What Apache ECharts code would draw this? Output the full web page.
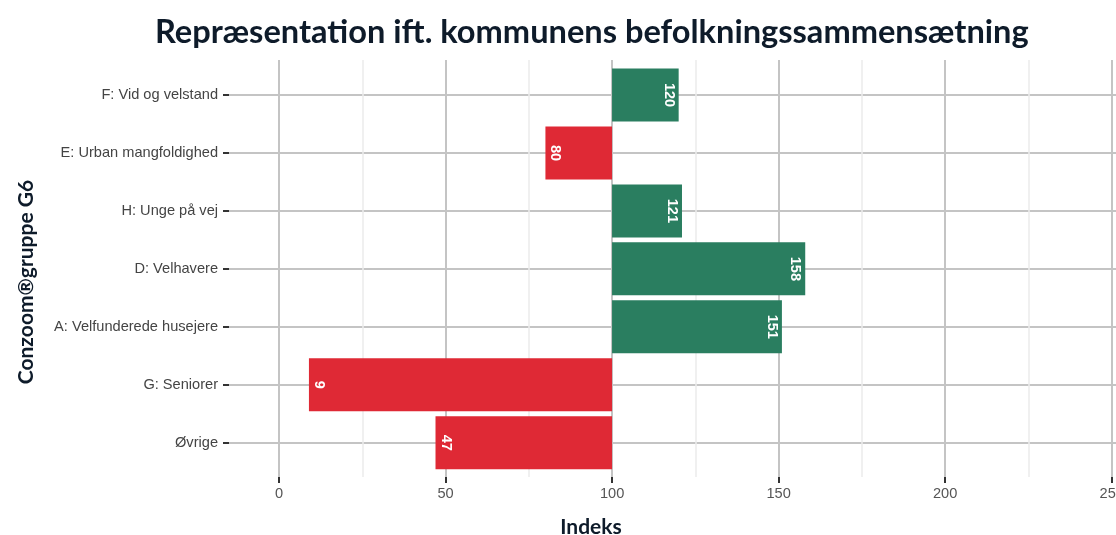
<!DOCTYPE html>
<html>
<head>
<meta charset="utf-8">
<script src="https://cdn.jsdelivr.net/npm/echarts@6/dist/echarts.min.js"></script>
<style>
  html, body { margin: 0; padding: 0; background: #fff; }
  #chart { width: 1116px; height: 535px; }
</style>
</head>
<body>
<div id="chart"></div>
<script>
const categories = ['F: Vid og velstand', 'E: Urban mangfoldighed', 'H: Unge på vej', 'D: Velhavere', 'A: Velfunderede husejere', 'G: Seniorer', 'Øvrige'];
const values = [120, 80, 121, 158, 151, 9, 47];
const baseline = 100;
const xMin = 0, xMax = 250, xStep = 50;

const colorUp = '#2a7e60';
const colorDown = '#df2935';
const dark = '#0e1b2a';

// bars run from the 100 baseline to the value: invisible base + visible part
const baseData = values.map(v => Math.min(v, baseline));
const diffData = values.map(v => ({
    value: Math.abs(v - baseline),
    itemStyle: { color: v >= baseline ? colorUp : colorDown },
    label: { position: v >= baseline ? 'insideRight' : 'insideLeft' }
}));

const chart = echarts.init(document.getElementById('chart'));
chart.setOption({
    animation: false,
    title: {
        text: 'Repræsentation ift. kommunens befolkningssammensætning',
        left: 150,
        top: 11,
        textStyle: { fontFamily: 'Lato', fontWeight: 'bold', fontSize: 32.6, color: dark }
    },
    grid: [
        // vertical grid + x axis
        { left: 279, right: 4.3, top: 60, bottom: 58, outerBoundsMode: 'none', containLabel: false },
        // categories + bars
        { left: 229, right: 0, top: 95, bottom: 92.3, outerBoundsMode: 'none', containLabel: false }
    ],
    xAxis: [{
        gridIndex: 0,
        type: 'value',
        min: xMin,
        max: xMax,
        interval: xStep,
        axisLine: { show: false },
        axisTick: { show: true, length: 6, lineStyle: { color: '#333', width: 2 } },
        axisLabel: { margin: 9, color: '#555', fontSize: 14.6, fontFamily: 'Liberation Sans' },
        splitLine: { lineStyle: { color: '#c4c4c4', width: 2 } },
        minorTick: { show: false, splitNumber: 2 },
        minorSplitLine: { show: true, lineStyle: { color: '#ececec', width: 1.5 } }
    }, {
        gridIndex: 1,
        type: 'value',
        min: -15,
        max: 251.3,
        show: false
    }],
    yAxis: [{
        gridIndex: 0,
        type: 'value',
        show: false
    }, {
        gridIndex: 1,
        type: 'category',
        data: categories,
        inverse: true,
        boundaryGap: false,
        axisLine: { show: false, onZero: false },
        axisTick: { show: true, length: 6, lineStyle: { color: '#333', width: 2 } },
        axisLabel: { margin: 11, color: '#444', fontSize: 14.6, fontFamily: 'Liberation Sans' },
        splitLine: { show: true, lineStyle: { color: '#c4c4c4', width: 2 } }
    }],
    graphic: [{
        type: 'text',
        x: 26, y: 282,
        rotation: Math.PI / 2,
        style: {
            text: 'Conzoom®gruppe G6',
            fill: dark,
            font: 'bold 21px Lato',
            align: 'center',
            verticalAlign: 'middle'
        }
    }, {
        type: 'text',
        x: 591, y: 527,
        style: {
            text: 'Indeks',
            fill: dark,
            font: 'bold 21px Lato',
            align: 'center',
            verticalAlign: 'middle'
        }
    }],
    series: [{
        type: 'bar',
        xAxisIndex: 1,
        yAxisIndex: 1,
        stack: 'b',
        data: baseData,
        barWidth: 53,
        clip: false,
        silent: true,
        itemStyle: { color: 'transparent' }
    }, {
        type: 'bar',
        xAxisIndex: 1,
        yAxisIndex: 1,
        stack: 'b',
        data: diffData,
        barWidth: 53,
        clip: false,
        label: {
            show: true,
            rotate: -90,
            align: 'center',
            verticalAlign: 'middle',
            distance: 10,
            color: '#fff',
            fontWeight: 'bold',
            fontSize: 14.5,
            fontFamily: 'Liberation Sans',
            formatter: p => values[p.dataIndex]
        }
    }]
});
</script>
</body>
</html>
